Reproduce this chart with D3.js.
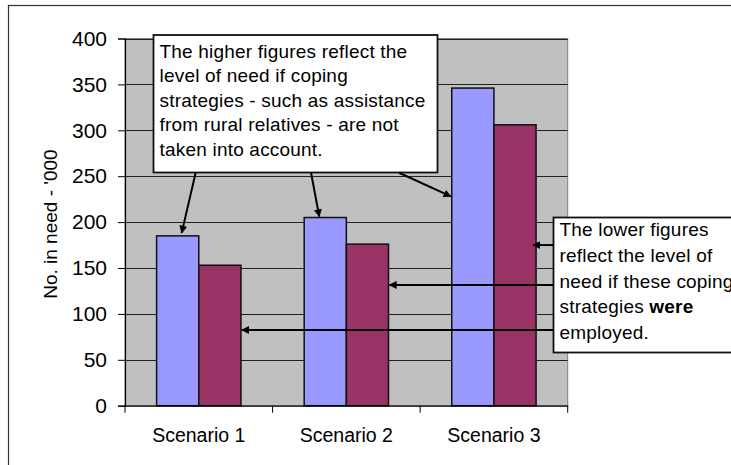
<!DOCTYPE html>
<html><head><meta charset="utf-8">
<script src="https://cdn.jsdelivr.net/npm/d3@7"></script>
<style>
html,body{margin:0;padding:0;background:#fff;}
svg{display:block;font-family:"Liberation Sans",Arial,sans-serif;}
</style></head>
<body>
<svg id="chart" width="731" height="465"></svg>
<script>
const categories = ["Scenario 1", "Scenario 2", "Scenario 3"];
const withoutCoping = [185, 205, 346];
const withCoping = [153, 176, 306];
const yTicks = [0, 50, 100, 150, 200, 250, 300, 350, 400];
const yLabel = "No. in need - '000";
const noteHigh = ["The higher figures reflect the", "level of need if coping", "strategies - such as assistance", "from rural relatives - are not", "taken into account."];
const noteLow = [["The lower figures"], ["reflect the level of"], ["need if these coping"], ["strategies ", "were"], ["employed."]];

const svg = d3.select("#chart");
const pLeft = 125, pRight = 567.7, pTop = 38.5, pBottom = 405.7;

// outer chart border
svg.append("rect").attr("x", 8.5).attr("y", 5.5).attr("width", 760).attr("height", 500)
  .attr("fill", "#fff").attr("stroke", "#333").attr("stroke-width", 1.2);

const x = d3.scaleBand().domain(categories).range([pLeft, pRight]).padding(0);
const groupW = x.bandwidth() * 2 / 3.5;
const xs = d3.scaleBand().domain([0, 1]).range([(x.bandwidth() - groupW) / 2, (x.bandwidth() + groupW) / 2]);
const y = d3.scaleLinear().domain([0, 400]).range([pBottom, pTop]);

// plot area
svg.append("rect").attr("x", pLeft).attr("y", pTop).attr("width", pRight - pLeft).attr("height", pBottom - pTop)
  .attr("fill", "#c0c0c0").attr("stroke", "#808080").attr("stroke-width", 1);

// gridlines
svg.append("g").selectAll("line").data(yTicks.filter(d => d > 0)).join("line")
  .attr("x1", pLeft).attr("x2", pRight).attr("y1", d => Math.round(y(d)) + 0.5).attr("y2", d => Math.round(y(d)) + 0.5)
  .attr("stroke", "#222").attr("stroke-width", 1);

// bars
const series = [withoutCoping, withCoping];
const colors = ["#9999ff", "#993366"];
series.forEach((vals, si) => {
  svg.append("g").selectAll("rect").data(vals).join("rect")
    .attr("x", (d, i) => x(categories[i]) + xs(si))
    .attr("y", d => y(d))
    .attr("width", xs.bandwidth())
    .attr("height", d => y(0) - y(d))
    .attr("fill", colors[si]).attr("stroke", "#111").attr("stroke-width", 1.5);
});

// y axis
const yAxis = svg.append("g").attr("transform", `translate(${pLeft},0)`)
  .call(d3.axisLeft(y).tickValues(yTicks).tickSize(7).tickPadding(11));
yAxis.select(".domain").attr("stroke", "#000").attr("stroke-width", 1.2);
yAxis.selectAll(".tick line").attr("stroke", "#000");
yAxis.selectAll("text").attr("font-size", 21).attr("fill", "#000")
  .attr("font-family", '"Liberation Sans",Arial,sans-serif');

// x axis
const xAxis = svg.append("g").attr("transform", `translate(0,${pBottom})`)
  .call(d3.axisBottom(x).tickSize(0).tickPadding(22));
xAxis.select(".domain").attr("stroke", "#000").attr("stroke-width", 1.2);
xAxis.selectAll("text").attr("font-size", 19.5).attr("fill", "#000")
  .attr("font-family", '"Liberation Sans",Arial,sans-serif');
const bounds = categories.map(c => x(c)).concat([x(categories[categories.length - 1]) + x.bandwidth()]);
xAxis.selectAll(".bt").data(bounds).join("line").attr("class", "bt")
  .attr("x1", d => d).attr("x2", d => d).attr("y1", 0).attr("y2", 7).attr("stroke", "#000");

// y label
svg.append("text").attr("transform", `translate(57,${(pTop + pBottom) / 2 + 2}) rotate(-90)`)
  .attr("text-anchor", "middle").attr("font-size", 19).attr("fill", "#000").text(yLabel);

// arrow marker
svg.append("defs").append("marker").attr("id", "ah").attr("viewBox", "0 0 10 10")
  .attr("refX", 9).attr("refY", 5).attr("markerWidth", 4).attr("markerHeight", 4)
  .attr("orient", "auto").attr("markerUnits", "strokeWidth")
  .append("path").attr("d", "M0,0 L10,5 L0,10 z").attr("fill", "#000");

function bx(ci, si, edge) { // edge: 0 left, 0.5 center, 1 right
  return x(categories[ci]) + xs(si) + xs.bandwidth() * edge;
}
function arrow(x1, y1, x2, y2) {
  svg.append("line").attr("x1", x1).attr("y1", y1).attr("x2", x2).attr("y2", y2)
    .attr("stroke", "#000").attr("stroke-width", 2).attr("marker-end", "url(#ah)");
}

// box 1
const b1 = {x: 153.5, y: 35, w: 284, h: 137.5};
svg.append("rect").attr("x", b1.x).attr("y", b1.y).attr("width", b1.w).attr("height", b1.h)
  .attr("fill", "#fff").attr("stroke", "#111").attr("stroke-width", 1.8);
svg.append("g").selectAll("text").data(noteHigh).join("text")
  .attr("x", 159.5).attr("y", (d, i) => 57.5 + i * 24.6)
  .attr("font-size", 19).attr("letter-spacing", 0.2).attr("fill", "#000").text(d => d);
const b1b = b1.y + b1.h;
arrow(195.7, b1b, bx(0, 0, 0.5) + 4, y(withoutCoping[0]) - 3);
arrow(311, b1b, bx(1, 0, 0.5) - 6, y(withoutCoping[1]) - 1);
arrow(398.5, b1b, bx(2, 0, 0) - 1, y(228));

// box 2
const b2 = {x: 553.5, y: 217.5, w: 200, h: 135};
svg.append("rect").attr("x", b2.x).attr("y", b2.y).attr("width", b2.w).attr("height", b2.h)
  .attr("fill", "#fff").attr("stroke", "#111").attr("stroke-width", 1.8);
const t2 = svg.append("g").selectAll("text").data(noteLow).join("text")
  .attr("x", 559.5).attr("y", (d, i) => 236 + i * 25.8)
  .attr("font-size", 19).attr("letter-spacing", 0.2).attr("fill", "#000");
t2.each(function(parts) {
  const t = d3.select(this);
  parts.forEach((p, k) => t.append("tspan").attr("font-weight", k === 1 ? "bold" : "normal").text(p));
});
arrow(b2.x, y(175), bx(2, 1, 1) - 3, y(175));
arrow(b2.x, y(131.5), bx(1, 1, 1) + 1, y(131.5));
arrow(b2.x, y(82.5), bx(0, 1, 1) + 1, y(82.5));
</script>
</body></html>
